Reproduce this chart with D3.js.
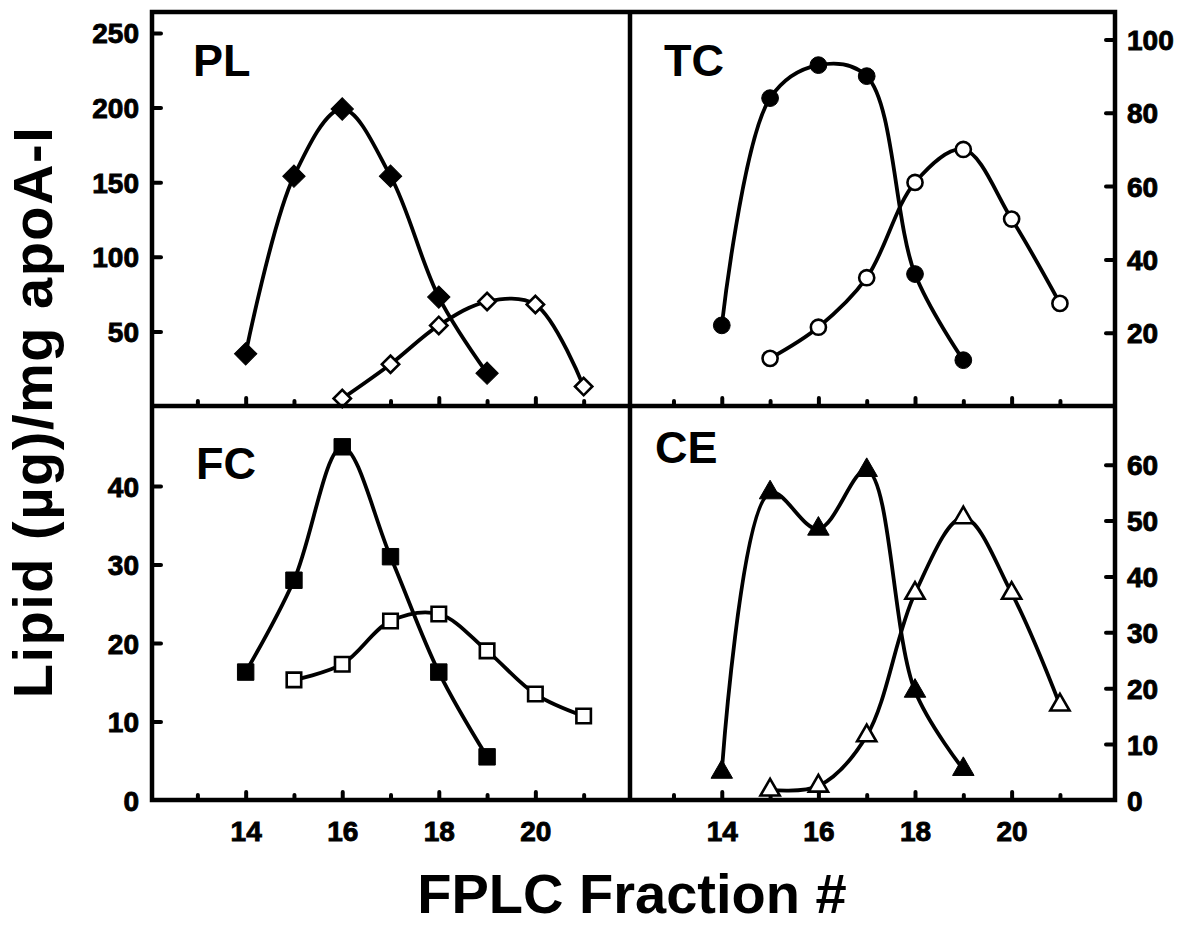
<!DOCTYPE html>
<html>
<head>
<meta charset="utf-8">
<script src="https://cdn.jsdelivr.net/npm/d3@7"></script>
<style>
  body { margin: 0; background: #fff; }
  svg { display: block; }
  .tick text { font-family: "Liberation Sans", Arial, sans-serif; font-weight: bold; font-size: 28px; fill: #000; stroke: #000; stroke-width: 0.9px; }
  .title { font-family: "Liberation Sans", Arial, sans-serif; font-weight: bold; fill: #000; }
</style>
</head>
<body>
<div id="chart"></div>
<script>
let width = 1195,
    height = 926;

// fractions and lipid values
const plSolidX = [14, 15, 16, 17, 18, 19];
const plSolid = [35, 154, 199, 154, 73, 22];
const plOpenX = [16, 17, 18, 19, 20, 21];
const plOpen = [5, 28, 54, 70, 68, 13];

const tcSolidX = [14, 15, 16, 17, 18, 19];
const tcSolid = [22, 84, 93, 90, 36, 12.5];
const tcOpenX = [15, 16, 17, 18, 19, 20, 21];
const tcOpen = [13, 21.5, 35, 61, 70, 51, 28];

const fcSolidX = [14, 15, 16, 17, 18, 19];
const fcSolid = [16.3, 28, 45, 31, 16.3, 5.5];
const fcOpenX = [15, 16, 17, 18, 19, 20, 21];
const fcOpen = [15.3, 17.3, 22.8, 23.7, 19, 13.5, 10.7];

const ceSolidX = [14, 15, 16, 17, 18, 19];
const ceSolid = [5, 55, 48.5, 59, 19.5, 5.5];
const ceOpenX = [15, 16, 17, 18, 19, 20, 21];
const ceOpen = [1.8, 2.5, 11.5, 37, 50.5, 37, 17];

const plTicks = [50, 100, 150, 200, 250];
const tcTicks = [20, 40, 60, 80, 100];
const fcTicks = [0, 10, 20, 30, 40];
const ceTicks = [0, 10, 20, 30, 40, 50, 60];
const xTicks = [13, 14, 15, 16, 17, 18, 19, 20, 21];

let frameLeft = 152, frameMid = 630, frameRight = 1115,
    frameTop = 12, frameMidY = 406, frameBottom = 800;

let svg = d3.select("#chart")
    .append("svg")
    .attr("width", width)
    .attr("height", height);

let panels = [
    { name: "PL", x0: frameLeft, x1: frameMid, y0: frameTop, y1: frameMidY, xd: [12.06, 21.96], yMax: 264, side: "left",
      ticks: plTicks, labels: false, shape: "diamond",
      solid: [plSolidX, plSolid], open: [plOpenX, plOpen], lx: 193, ly: 76 },
    { name: "TC", x0: frameMid, x1: frameRight, y0: frameTop, y1: frameMidY, xd: [12.1, 22.14], yMax: 107.5, side: "right",
      ticks: tcTicks, labels: false, shape: "circle",
      solid: [tcSolidX, tcSolid], open: [tcOpenX, tcOpen], lx: 664, ly: 76 },
    { name: "FC", x0: frameLeft, x1: frameMid, y0: frameMidY, y1: frameBottom, xd: [12.06, 21.96], yMax: 50.2, side: "left",
      ticks: fcTicks, labels: true, shape: "square",
      solid: [fcSolidX, fcSolid], open: [fcOpenX, fcOpen], lx: 196, ly: 479 },
    { name: "CE", x0: frameMid, x1: frameRight, y0: frameMidY, y1: frameBottom, xd: [12.1, 22.14], yMax: 70.5, side: "right",
      ticks: ceTicks, labels: true, shape: "triangle",
      solid: [ceSolidX, ceSolid], open: [ceOpenX, ceOpen], lx: 655, ly: 463 }
];

let symbols = {
    diamond: { type: d3.symbolSquare, rot: 45, solid: 250, open: 150 },
    circle: { type: d3.symbolCircle, rot: 0, solid: 220, open: 180 },
    square: { type: d3.symbolSquare, rot: 0, solid: 270, open: 210 },
    triangle: { type: d3.symbolTriangle, rot: 0, solid: 200, open: 160 }
};

panels.forEach(p => {
    let x = d3.scaleLinear().domain(p.xd).range([p.x0, p.x1]);
    let y = d3.scaleLinear().domain([0, p.yMax]).range([p.y1, p.y0]);
    let g = svg.append("g");

    // x axis, ticks pointing up into the panel
    let xAxis = d3.axisBottom(x)
        .tickValues(xTicks)
        .tickSizeInner(-7)
        .tickSizeOuter(0)
        .tickPadding(21)
        .tickFormat(d => p.labels && d % 2 === 0 ? d : "");
    let xg = g.append("g")
        .attr("transform", "translate(0," + p.y1 + ")")
        .call(xAxis);
    xg.select(".domain").remove();
    xg.selectAll(".tick line")
        .attr("y2", d => d % 2 === 0 ? -8 : -5)
        .attr("stroke", "#000")
        .attr("stroke-width", 4)
        .attr("stroke-linecap", "round");

    // y axis, ticks pointing inward
    let yAxis = (p.side === "left" ? d3.axisLeft(y) : d3.axisRight(y))
        .tickValues(p.ticks)
        .tickSizeInner(-9)
        .tickSizeOuter(0)
        .tickPadding(p.side === "left" ? 13 : 12);
    let yg = g.append("g")
        .attr("transform", "translate(" + (p.side === "left" ? p.x0 : p.x1) + ",0)")
        .call(yAxis);
    yg.select(".domain").remove();
    yg.selectAll(".tick line")
        .attr("stroke", "#000")
        .attr("stroke-width", 4)
        .attr("stroke-linecap", "round")
        .attr("display", d => d === 0 ? "none" : null);
    yg.selectAll(".tick text").attr("dy", "0.36em");

    let line = d3.line()
        .x(d => x(d[0]))
        .y(d => y(d[1]))
        .curve(d3.curveCatmullRom.alpha(0.5));

    [["solid", "#000"], ["open", "#fff"]].forEach(([kind, fill]) => {
        let pts = p[kind][0].map((f, i) => [f, p[kind][1][i]]);
        g.append("path")
            .datum(pts)
            .attr("d", line)
            .attr("fill", "none")
            .attr("stroke", "#000")
            .attr("stroke-width", 3.8);
        let sym = symbols[p.shape];
        g.selectAll(".m-" + kind)
            .data(pts)
            .enter()
            .append("path")
            .attr("class", "m-" + kind)
            .attr("d", d3.symbol().type(sym.type).size(sym[kind]))
            .attr("transform", d => "translate(" + x(d[0]) + "," + y(d[1]) + ") rotate(" + sym.rot + ")")
            .attr("fill", fill)
            .attr("stroke", "#000")
            .attr("stroke-width", kind === "open" ? 2.6 : 1);
    });

    g.append("text")
        .attr("class", "title")
        .attr("x", p.lx)
        .attr("y", p.ly)
        .attr("font-size", 45)
        .text(p.name);
});

// frame and dividers
svg.append("rect")
    .attr("x", frameLeft)
    .attr("y", frameTop)
    .attr("width", frameRight - frameLeft)
    .attr("height", frameBottom - frameTop)
    .attr("fill", "none")
    .attr("stroke", "#000")
    .attr("stroke-width", 4.5);
svg.append("line")
    .attr("x1", frameMid).attr("x2", frameMid)
    .attr("y1", frameTop).attr("y2", frameBottom)
    .attr("stroke", "#000").attr("stroke-width", 4.5);
svg.append("line")
    .attr("x1", frameLeft).attr("x2", frameRight)
    .attr("y1", frameMidY).attr("y2", frameMidY)
    .attr("stroke", "#000").attr("stroke-width", 4.5);

svg.append("text")
    .attr("class", "title")
    .attr("transform", "translate(52,412) rotate(-90)")
    .attr("text-anchor", "middle")
    .attr("font-size", 56)
    .attr("letter-spacing", 1.5)
    .text("Lipid (\u00b5g)/mg apoA-I");

svg.append("text")
    .attr("class", "title")
    .attr("x", 632)
    .attr("y", 913)
    .attr("text-anchor", "middle")
    .attr("font-size", 56)
    .text("FPLC Fraction #");
</script>
</body>
</html>
